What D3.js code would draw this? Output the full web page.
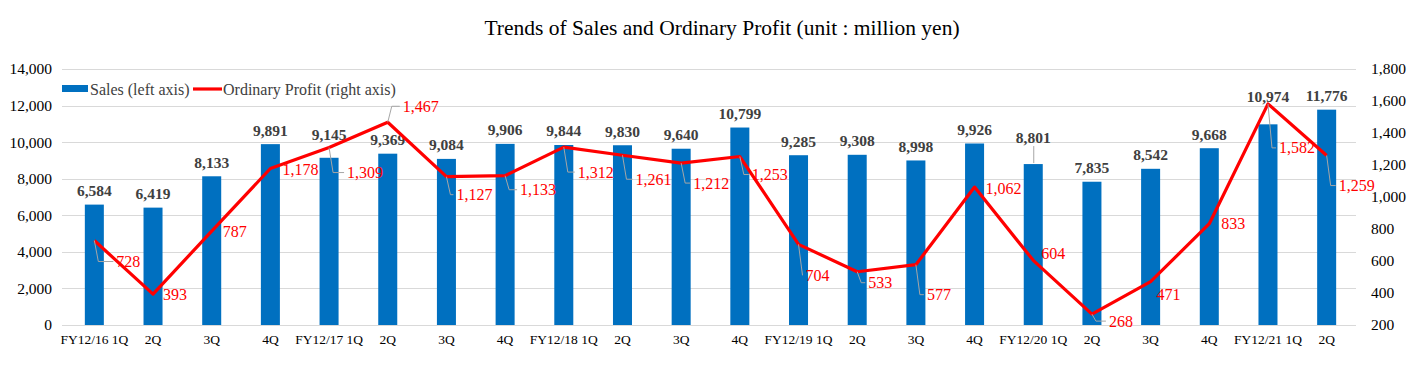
<!DOCTYPE html>
<html><head><meta charset="utf-8">
<script src="https://cdn.jsdelivr.net/npm/d3@7"></script>
<style>body{margin:0;background:#fff}svg{display:block;font-family:"Liberation Serif","Times New Roman",serif}</style>
</head><body><svg id="c" width="1419" height="367"></svg>
<script>
const categories = ["FY12/16 1Q","2Q","3Q","4Q","FY12/17 1Q","2Q","3Q","4Q","FY12/18 1Q","2Q","3Q","4Q","FY12/19 1Q","2Q","3Q","4Q","FY12/20 1Q","2Q","3Q","4Q","FY12/21 1Q","2Q"];
const sales = [6584,6419,8133,9891,9145,9369,9084,9906,9844,9830,9640,10799,9285,9308,8998,9926,8801,7835,8542,9668,10974,11776];
const profit = [728,393,787,1178,1309,1467,1127,1133,1312,1261,1212,1253,704,533,577,1062,604,268,471,833,1582,1259];
const leftTicks = [0,2000,4000,6000,8000,10000,12000,14000];
const rightTicks = [200,400,600,800,1000,1200,1400,1600,1800];
const seriesNames = ["Sales (left axis)","Ordinary Profit (right axis)"];
const title = "Trends of Sales and Ordinary Profit (unit : million yen)";

// label layout offsets (placement only)
const profitLabelDx = [22,10,11,12,18,15,10,15,14,13,12,12,7,11,11,11,8,17,6,12,11,12];
const profitLabelDy = [21,0,0,1,25,-16,18,14,25,24,20,18,31,11,30,1,-7,7,13,0,44,30];
const salesLabelDy = [0,0,0,0,-9,0,0,0,0,0,0,0,0,0,0,0,-13,0,0,0,-14,0];

const svg = d3.select("#c");
const fmt = d3.format(",");
const pTop = 69, pBottom = 325, pLeft = 65, pRight = 1356;
const idx = categories.map((d,i)=>i);
const x = d3.scaleBand().domain(idx).range([pLeft,pRight]).paddingInner(0.676).paddingOuter(0.338);
const yL = d3.scaleLinear().domain([0,14000]).range([pBottom,pTop]);
const yR = d3.scaleLinear().domain([200,1800]).range([pBottom,pTop]);

// title
svg.append("text").attr("x",722).attr("y",28).attr("text-anchor","middle").attr("dominant-baseline","central")
  .attr("font-size",21.5).attr("fill","#000").text(title);

// grid
svg.append("g").selectAll("line").data(leftTicks).join("line")
  .attr("x1",pLeft-3).attr("x2",pRight).attr("y1",d=>Math.round(yL(d))+0.5).attr("y2",d=>Math.round(yL(d))+0.5)
  .attr("stroke","#d9d9d9").attr("stroke-width",1);

// left axis
const gl = svg.append("g").attr("transform",`translate(${pLeft},0)`)
  .call(d3.axisLeft(yL).tickValues(leftTicks).tickFormat(fmt).tickSize(0).tickPadding(13));
gl.select(".domain").remove();
gl.selectAll("text").attr("font-size",15.5).attr("font-family","Liberation Serif").attr("fill","#000");

// right axis
const gr = svg.append("g").attr("transform",`translate(${pRight},0)`)
  .call(d3.axisRight(yR).tickValues(rightTicks).tickFormat(fmt).tickSize(0).tickPadding(15));
gr.select(".domain").remove();
gr.selectAll("text").attr("font-size",15.5).attr("font-family","Liberation Serif").attr("fill","#000");

// x axis
const gx = svg.append("g").attr("transform",`translate(0,${pBottom})`)
  .call(d3.axisBottom(x).tickFormat(i=>categories[i]).tickSize(0).tickPadding(9));
gx.select(".domain").remove();
gx.selectAll("text").attr("font-size",13.5).attr("font-family","Liberation Serif").attr("fill","#000");

// bars
svg.append("g").selectAll("rect").data(sales).join("rect")
  .attr("x",(d,i)=>x(i)).attr("width",x.bandwidth())
  .attr("y",d=>yL(d)).attr("height",d=>pBottom-yL(d)).attr("fill","#0070c0");

// sales leaders
svg.append("g").selectAll("line").data(sales.map((d,i)=>i).filter(i=>salesLabelDy[i]<-10 && i!==20)).join("line")
  .attr("x1",i=>x(i)+x.bandwidth()/2+0.5).attr("x2",i=>x(i)+x.bandwidth()/2+0.5)
  .attr("y1",i=>yL(sales[i])-14+salesLabelDy[i]+9).attr("y2",i=>yL(sales[i])-1)
  .attr("stroke","#a6a6a6").attr("stroke-width",1);

// sales labels
svg.append("g").selectAll("text").data(sales).join("text")
  .attr("x",(d,i)=>x(i)+x.bandwidth()/2).attr("y",(d,i)=>yL(d)-14+salesLabelDy[i])
  .attr("text-anchor","middle").attr("dominant-baseline","central")
  .attr("font-size",15.5).attr("font-weight","bold").attr("fill","#404040").text(d=>fmt(d));

// profit line
const px = i=>x(i)+x.bandwidth()/2;
svg.append("path").datum(profit)
  .attr("d",d3.line().x((d,i)=>px(i)).y(d=>yR(d)))
  .attr("fill","none").attr("stroke","#ff0000").attr("stroke-width",3.2).attr("stroke-linejoin","round");

// profit leaders
svg.append("g").selectAll("path").data(profit.map((d,i)=>i).filter(i=>Math.hypot(profitLabelDx[i],profitLabelDy[i])>15)).join("path")
  .attr("d",i=>{
    const p0=[px(i),yR(profit[i])], ly=p0[1]+profitLabelDy[i], lx=p0[0]+profitLabelDx[i];
    return `M${p0[0]},${p0[1]}L${p0[0]+4},${ly}L${lx-3},${ly}`;
  })
  .attr("fill","none").attr("stroke","#a6a6a6").attr("stroke-width",1);

// profit labels
svg.append("g").selectAll("text").data(profit).join("text")
  .attr("x",(d,i)=>px(i)+profitLabelDx[i]).attr("y",(d,i)=>yR(d)+profitLabelDy[i])
  .attr("dominant-baseline","central").attr("font-size",16).attr("fill","#ff0000").text(d=>fmt(d));

// legend
const lg = svg.append("g");
lg.append("rect").attr("x",62).attr("y",85).attr("width",26).attr("height",7).attr("fill","#0070c0");
lg.append("text").attr("x",90).attr("y",89).attr("dominant-baseline","central").attr("font-size",16).attr("fill","#404040").text(seriesNames[0]);
lg.append("line").attr("x1",193).attr("x2",222).attr("y1",89).attr("y2",89).attr("stroke","#ff0000").attr("stroke-width",3.2);
lg.append("text").attr("x",223).attr("y",89).attr("dominant-baseline","central").attr("font-size",16).attr("fill","#404040").text(seriesNames[1]);
</script></body></html>
